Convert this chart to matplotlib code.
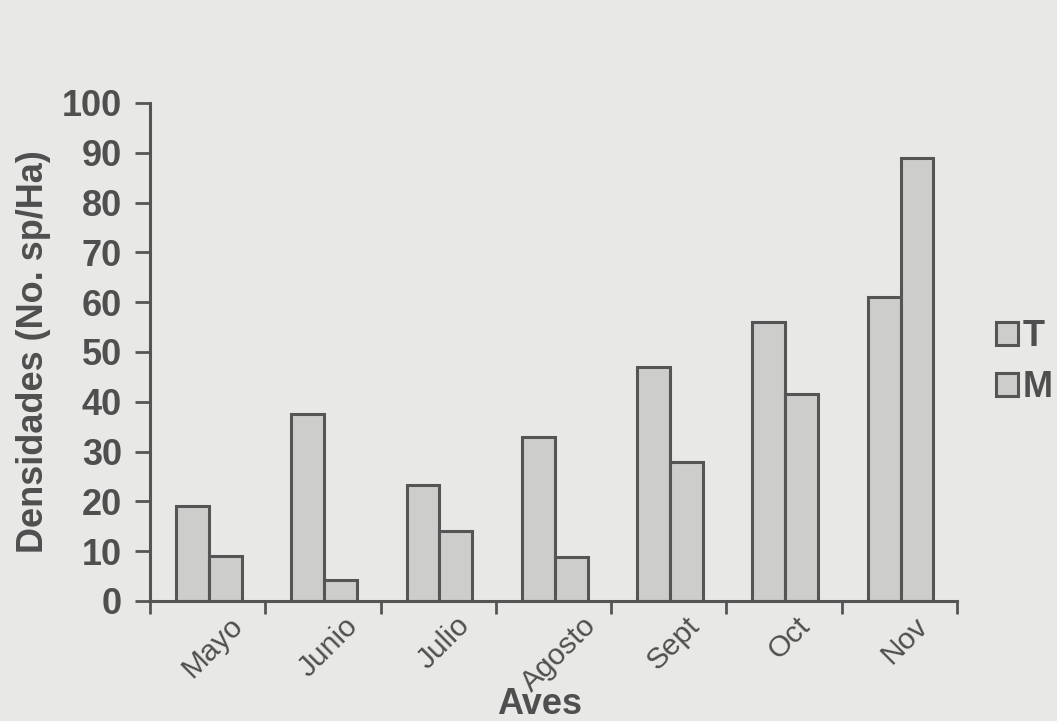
import matplotlib
matplotlib.use("Agg")
import matplotlib.pyplot as plt
import matplotlib.transforms as mtransforms
import numpy as np

months = ["Mayo", "Junio", "Julio", "Agosto", "Sept", "Oct", "Nov"]
T_vals = [19, 37.5, 23.3, 33, 47, 56, 61]
M_vals = [9, 4.2, 14, 8.8, 28, 41.5, 89]
y_ticks = [0, 10, 20, 30, 40, 50, 60, 70, 80, 90, 100]
series_labels = ["T", "M"]

BG = "#e8e8e6"
FILL = "#cdcdcb"
EDGE = "#555555"
TXT = "#4f4f4f"

plt.rcParams['font.family'] = ['Liberation Sans', 'DejaVu Sans']

fig = plt.figure(figsize=(10.57, 7.21), dpi=100, facecolor=BG)
ax = fig.add_axes([150/1057, 1-601/721, (957-150)/1057, (601-103)/721])
ax.set_facecolor(BG)

x = np.arange(len(months))
w = 0.285
ax.bar(x - w/2 + 0.01, T_vals, w, color=FILL, edgecolor=EDGE, linewidth=2.2, label=series_labels[0])
ax.bar(x + w/2 + 0.01, M_vals, w, color=FILL, edgecolor=EDGE, linewidth=2.2, label=series_labels[1])

ax.set_xlim(-0.5, len(months) - 0.5)
ax.set_ylim(0, 100)
for s in ["top", "right"]:
    ax.spines[s].set_visible(False)
for s in ["left", "bottom"]:
    ax.spines[s].set_color(EDGE)
    ax.spines[s].set_linewidth(2.2)

ax.set_yticks(y_ticks)
ax.set_yticklabels([str(v) for v in y_ticks], fontsize=26, fontweight='bold', color=TXT)
ax.tick_params(axis='y', direction='out', length=11, width=2, color=EDGE, pad=9)

# boundaries as minor ticks, labels at centers
ax.set_xticks(np.arange(-0.5, len(months)), minor=True)
ax.set_xticks(x)
ax.set_xticklabels(months, fontsize=21.5, color=TXT, rotation=45, ha='center', va='top',
                   rotation_mode='default')
ax.tick_params(axis='x', which='major', length=0, pad=7.5)
ax.tick_params(axis='x', which='minor', direction='out', length=9, width=2, color=EDGE)
offset = mtransforms.ScaledTranslation(5/100, 0, fig.dpi_scale_trans)
for lbl in ax.get_xticklabels():
    lbl.set_transform(lbl.get_transform() + offset)

ax.set_ylabel("Densidades (No. sp/Ha)", fontsize=26, fontweight='bold', color=TXT, labelpad=8)
fig.text(540/1057, 1-704/721, "Aves", fontsize=26, fontweight='bold', color=TXT,
         ha='center', va='center')

leg = ax.legend(loc='center left', bbox_to_anchor=(996/1057, 1-362/721),
                bbox_transform=fig.transFigure, frameon=False,
                prop={'size': 26, 'weight': 'bold'},
                handlelength=0.6, handleheight=0.6, handletextpad=0.15,
                labelspacing=0.45, borderpad=0, borderaxespad=0)
for t in leg.get_texts():
    t.set_color(TXT)

fig.savefig("out.png", dpi=100, facecolor=BG)
